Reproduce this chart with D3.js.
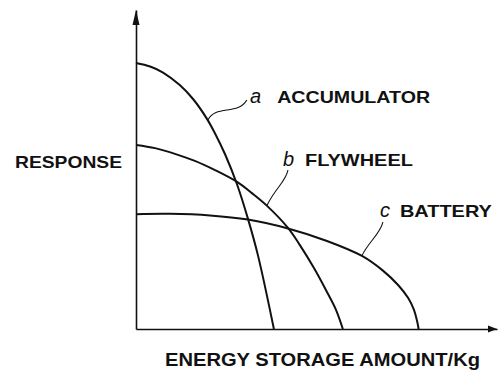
<!DOCTYPE html>
<html>
<head>
<meta charset="utf-8">
<script src="https://cdn.jsdelivr.net/npm/d3@7"></script>
<style>
  html, body { margin: 0; padding: 0; background: #fff; }
  svg { display: block; }
  .title { font-family: "Liberation Sans", Arial, Helvetica, sans-serif; font-weight: bold; fill: #111; }
  .letter { font-family: "Liberation Sans", Arial, Helvetica, sans-serif; font-style: italic; fill: #111; }
</style>
</head>
<body>
<svg id="chart" width="499" height="370"></svg>
<script>
// Energy storage amount (x) versus response (y), relative units 0–100.
const accumulatorX = [0, 3.9, 7.5, 12.2, 15.8, 19.7, 21.9, 24.7, 28.0, 31.0, 33.8, 38.2];
const accumulatorY = [83.4, 82.3, 80.4, 76.4, 72.1, 65.8, 61.3, 54.7, 45.3, 34.6, 23.0, 0];

const flywheelX = [0, 5.3, 10.8, 16.3, 21.9, 28.0, 32.1, 36.3, 42.1, 45.4, 49.3, 52.9, 55.4, 57.3];
const flywheelY = [57.7, 56.7, 54.9, 52.7, 49.8, 46.1, 42.6, 38.6, 31.7, 26.3, 19.1, 11.6, 6.0, 0];

const batteryX = [0, 9.4, 20.5, 31.0, 42.1, 52.9, 62.6, 68.4, 72.6, 75.4, 77.0, 77.8, 78.3];
const batteryY = [36.0, 36.1, 35.6, 34.3, 31.5, 27.6, 22.9, 18.3, 13.8, 9.7, 6.0, 2.8, 0];

const seriesLetters = ["a", "b", "c"];
const seriesNames = ["ACCUMULATOR", "FLYWHEEL", "BATTERY"];

// Label placement (data units): where the leader touches the curve,
// where it ends, and the text baseline.
const leaderFrom = [[19.9, 65.5], [36.3, 38.8], [62.6, 23.0]];
const leaderTo = [[30.7, 71.8], [42.1, 49.8], [68.4, 33.5]];
const letterAt = [[31.6, 70.8], [40.7, 51.0], [67.6, 35.0]];
const nameAtX = [39.1, 46.8, 73.1];

const xTitle = "ENERGY STORAGE AMOUNT/Kg";
const yTitle = "RESPONSE";

const svg = d3.select("#chart");

const x = d3.scaleLinear().domain([0, 100]).range([136, 497]);
const y = d3.scaleLinear().domain([0, 100]).range([329, 10]);

const ink = "#111";

// Axes: bare lines without ticks, ending in arrowheads.
svg.append("g")
  .attr("transform", `translate(0,${y(0)})`)
  .call(d3.axisBottom(x).ticks(0).tickSizeOuter(0))
  .call(g => g.select(".domain").attr("stroke", ink).attr("stroke-width", 1.6));

svg.append("g")
  .attr("transform", `translate(${x(0)},0)`)
  .call(d3.axisLeft(y).ticks(0).tickSizeOuter(0))
  .call(g => g.select(".domain").attr("stroke", ink).attr("stroke-width", 1.6));

const xEnd = x.range()[1], yTop = y.range()[1];
svg.append("path")
  .attr("d", `M${xEnd},${y(0)} L${xEnd - 9},${y(0) - 3.5} L${xEnd - 9},${y(0) + 3.5} Z`)
  .attr("fill", ink);
svg.append("path")
  .attr("d", `M${x(0)},${yTop} L${x(0) - 3.5},${yTop + 15} L${x(0) + 3.5},${yTop + 15} Z`)
  .attr("fill", ink);

// Curves
const line = d3.line()
  .x(d => x(d[0]))
  .y(d => y(d[1]))
  .curve(d3.curveCatmullRom.alpha(0.5));

const series = [
  d3.zip(accumulatorX, accumulatorY),
  d3.zip(flywheelX, flywheelY),
  d3.zip(batteryX, batteryY)
];

svg.append("g")
  .selectAll("path")
  .data(series)
  .join("path")
  .attr("d", line)
  .attr("fill", "none")
  .attr("stroke", ink)
  .attr("stroke-width", 2);

// Wavy leader lines from each curve to its label
const bend = [[0.2, 0.78, 0.77, 0.22], [0.43, 0.52, 0.86, 0.64], [0.3, 0.4, 0.86, 0.64]];
svg.append("g")
  .selectAll("path")
  .data(seriesLetters)
  .join("path")
  .attr("d", (d, i) => {
    const x0 = x(leaderFrom[i][0]), y0 = y(leaderFrom[i][1]);
    const x1 = x(leaderTo[i][0]), y1 = y(leaderTo[i][1]);
    const dx = x1 - x0, dy = y1 - y0, k = bend[i];
    return `M${x0},${y0} C${x0 + k[0] * dx},${y0 + k[1] * dy} ${x0 + k[2] * dx},${y0 + k[3] * dy} ${x1},${y1}`;
  })
  .attr("fill", "none")
  .attr("stroke", ink)
  .attr("stroke-width", 1.1);

const labels = svg.append("g");
labels.selectAll("text.letter")
  .data(seriesLetters)
  .join("text")
  .attr("class", "letter")
  .attr("x", (d, i) => x(letterAt[i][0]))
  .attr("y", (d, i) => y(letterAt[i][1]))
  .attr("font-size", 20)
  .text(d => d);

const nameWidths = [153, 108, 92];
labels.selectAll("text.title")
  .data(seriesNames)
  .join("text")
  .attr("class", "title")
  .attr("x", (d, i) => x(nameAtX[i]))
  .attr("y", (d, i) => y(letterAt[i][1]))
  .attr("font-size", 16.5)
  .attr("textLength", (d, i) => nameWidths[i])
  .attr("lengthAdjust", "spacingAndGlyphs")
  .text(d => d);

// Axis titles
svg.append("text")
  .attr("class", "title")
  .attr("x", 15)
  .attr("y", 168)
  .attr("font-size", 16.5)
  .attr("textLength", 107)
  .attr("lengthAdjust", "spacingAndGlyphs")
  .text(yTitle);

svg.append("text")
  .attr("class", "title")
  .attr("x", 165)
  .attr("y", 366)
  .attr("font-size", 17.5)
  .attr("textLength", 315)
  .attr("lengthAdjust", "spacingAndGlyphs")
  .text(xTitle);
</script>
</body>
</html>
